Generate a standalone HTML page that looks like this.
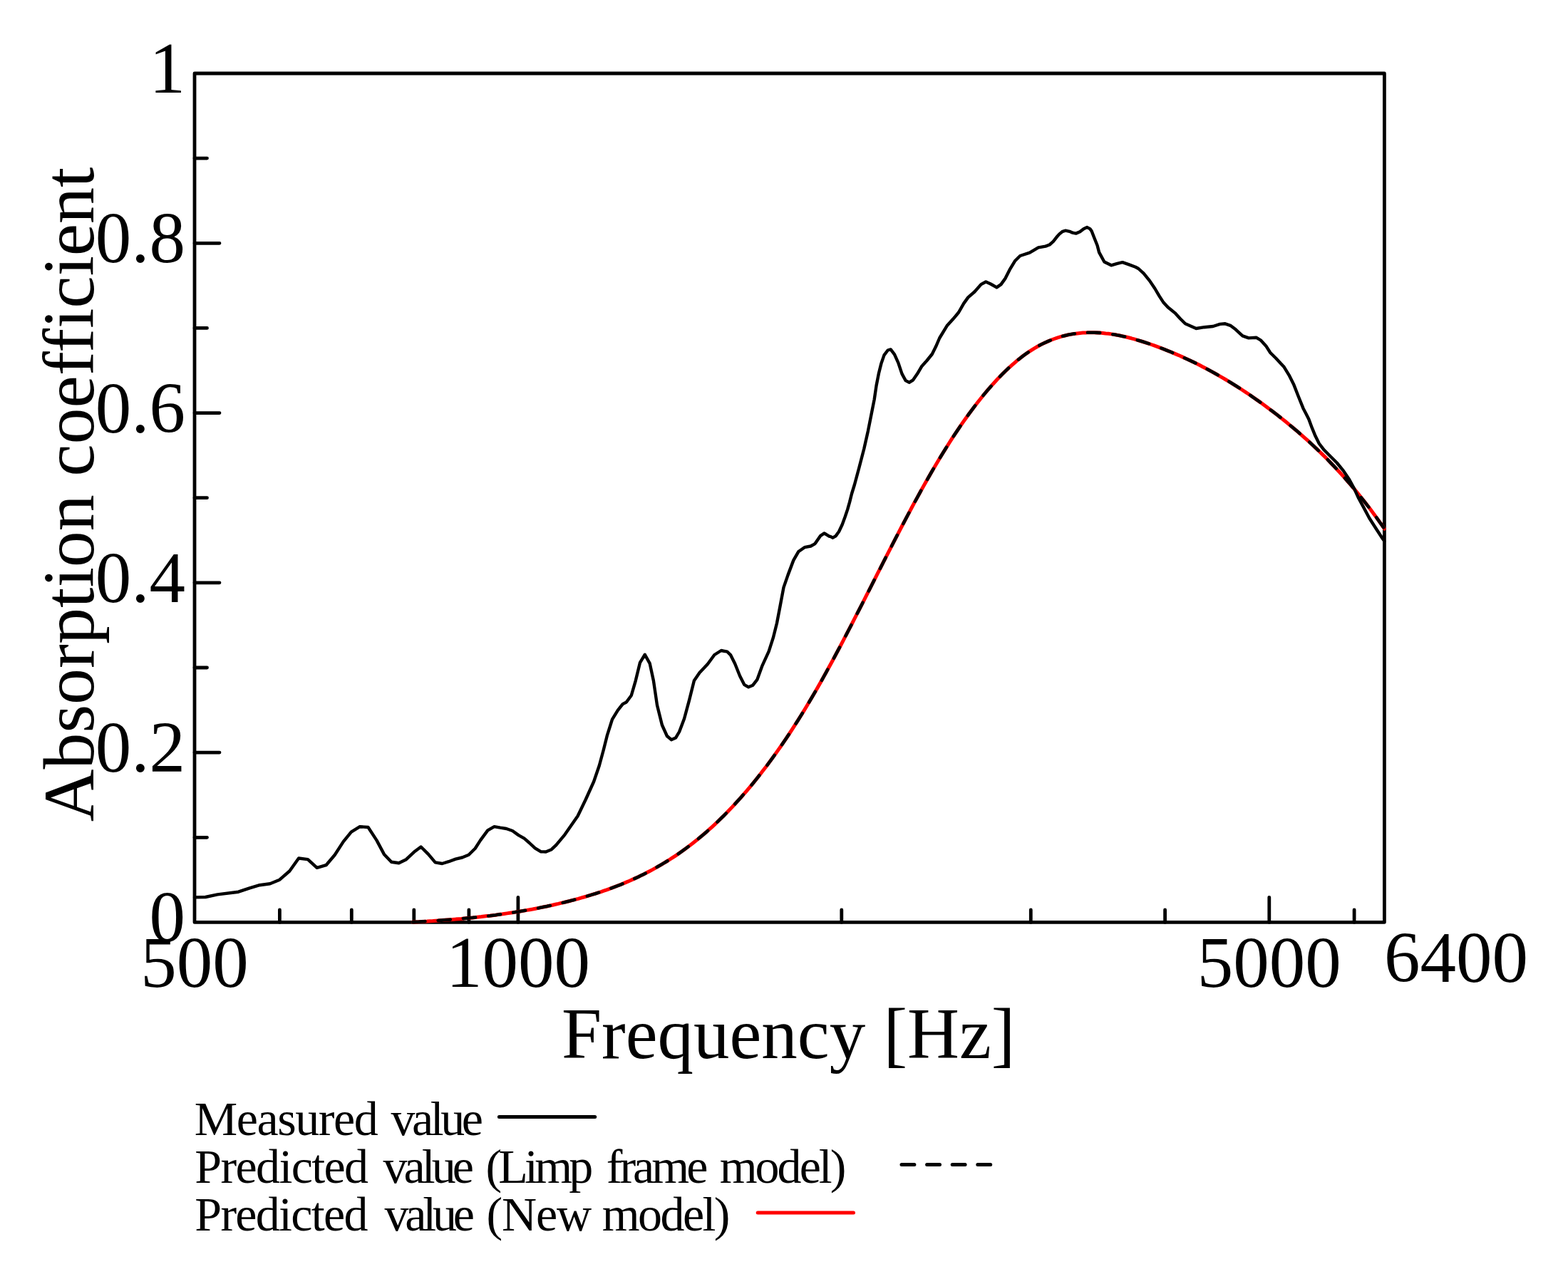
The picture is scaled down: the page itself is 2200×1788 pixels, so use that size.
<!DOCTYPE html>
<html><head><meta charset="utf-8"><title>Absorption coefficient</title>
<style>html,body{margin:0;padding:0;background:#fff;width:2200px;height:1788px;overflow:hidden}svg{display:block}</style>
</head><body>
<svg width="2200" height="1788" viewBox="0 0 2200 1788">
<rect width="2200" height="1788" fill="#fff"/>
<defs><clipPath id="pa"><rect x="260" y="90" width="1684.6" height="1220"/></clipPath></defs>
<g font-family="Liberation Serif, Times New Roman, serif" font-size="101" fill="#000">
<text x="260" y="1321.4" text-anchor="end">0</text>
<text x="260" y="1083.1" text-anchor="end">0.2</text>
<text x="260" y="844.8" text-anchor="end">0.4</text>
<text x="260" y="606.6" text-anchor="end">0.6</text>
<text x="260" y="368.3" text-anchor="end">0.8</text>
<text x="260" y="130.0" text-anchor="end">1</text>
<text x="273.0" y="1384.5" text-anchor="middle">500</text>
<text x="726.9" y="1384.5" text-anchor="middle">1000</text>
<text x="1780.8" y="1384.5" text-anchor="middle">5000</text>
<text x="1942" y="1377.5">6400</text>
<text x="1106.2" y="1485" text-anchor="middle">Frequency [Hz]</text>
<text font-size="102" transform="translate(131 693.9) rotate(-90)" text-anchor="middle">Absorption coefficient</text>
</g>
<g fill="none" stroke="#000" stroke-width="4.8" stroke-linecap="round" stroke-linejoin="round">
<rect x="273.0" y="103.0" width="1669.4" height="1191.4"/>
<path d="M273.0 1175.3H290.5M273.0 1056.1H308.0M273.0 937.0H290.5M273.0 817.8H308.0M273.0 698.7H290.5M273.0 579.6H308.0M273.0 460.4H290.5M273.0 341.3H308.0M273.0 222.1H290.5M392.4 1294.4V1276.9M493.3 1294.4V1276.9M580.8 1294.4V1276.9M657.9 1294.4V1276.9M726.9 1294.4V1259.4M1180.8 1294.4V1276.9M1446.3 1294.4V1276.9M1634.6 1294.4V1276.9M1780.8 1294.4V1259.4M1900.1 1294.4V1276.9"/>
</g>
<g clip-path="url(#pa)">
<path d="M579.3 1294.1L583.3 1293.9L587.3 1293.7L591.3 1293.4L595.3 1293.2L599.3 1293.0L603.3 1292.7L607.3 1292.5L611.3 1292.2L615.3 1291.9L619.3 1291.6L623.3 1291.3L627.3 1291.0L631.3 1290.7L635.3 1290.4L639.3 1290.1L643.3 1289.7L647.3 1289.4L651.3 1289.0L655.3 1288.6L659.3 1288.3L663.3 1287.9L667.3 1287.4L671.3 1287.0L675.3 1286.6L679.3 1286.1L683.3 1285.6L687.3 1285.2L691.3 1284.7L695.3 1284.2L699.3 1283.6L703.3 1283.1L707.3 1282.5L711.3 1281.9L715.3 1281.3L719.3 1280.7L723.3 1280.1L727.3 1279.5L731.3 1278.8L735.3 1278.1L739.3 1277.4L743.3 1276.7L747.3 1276.0L751.3 1275.2L755.3 1274.4L759.3 1273.6L763.3 1272.8L767.3 1272.0L771.3 1271.1L775.3 1270.2L779.3 1269.3L783.3 1268.4L787.3 1267.4L791.3 1266.5L795.3 1265.5L799.3 1264.5L803.3 1263.4L807.3 1262.4L811.3 1261.3L815.3 1260.1L819.3 1259.0L823.3 1257.8L827.3 1256.6L831.3 1255.4L835.3 1254.2L839.3 1252.9L843.3 1251.6L847.3 1250.2L851.3 1248.8L855.3 1247.4L859.3 1245.9L863.3 1244.4L867.3 1242.8L871.3 1241.3L875.3 1239.6L879.3 1237.9L883.3 1236.2L887.3 1234.4L891.3 1232.6L895.3 1230.8L899.3 1228.8L903.3 1226.9L907.3 1224.8L911.3 1222.7L915.3 1220.6L919.3 1218.4L923.3 1216.1L927.3 1213.8L931.3 1211.4L935.3 1209.0L939.3 1206.5L943.3 1203.9L947.3 1201.3L951.3 1198.6L955.3 1195.8L959.3 1192.9L963.3 1190.0L967.3 1187.0L971.3 1184.0L975.3 1180.8L979.3 1177.6L983.3 1174.3L987.3 1170.9L991.3 1167.5L995.3 1163.9L999.3 1160.3L1003.3 1156.6L1007.3 1152.8L1011.3 1148.9L1015.3 1145.0L1019.3 1140.9L1023.3 1136.8L1027.3 1132.6L1031.3 1128.3L1035.3 1123.9L1039.3 1119.5L1043.3 1114.9L1047.3 1110.3L1051.3 1105.6L1055.3 1100.8L1059.3 1095.9L1063.3 1090.9L1067.3 1085.8L1071.3 1080.6L1075.3 1075.4L1079.3 1070.0L1083.3 1064.6L1087.3 1059.0L1091.3 1053.4L1095.3 1047.7L1099.3 1041.9L1103.3 1036.0L1107.3 1030.0L1111.3 1023.9L1115.3 1017.7L1119.3 1011.4L1123.3 1005.0L1127.3 998.6L1131.3 992.0L1135.3 985.3L1139.3 978.5L1143.3 971.7L1147.3 964.7L1151.3 957.7L1155.3 950.5L1159.3 943.3L1163.3 936.0L1167.3 928.7L1171.3 921.2L1175.3 913.7L1179.3 906.2L1183.3 898.6L1187.3 890.9L1191.3 883.2L1195.3 875.5L1199.3 867.7L1203.3 859.9L1207.3 852.1L1211.3 844.3L1215.3 836.4L1219.3 828.6L1223.3 820.7L1227.3 812.8L1231.3 804.9L1235.3 797.1L1239.3 789.2L1243.3 781.4L1247.3 773.6L1251.3 765.8L1255.3 758.0L1259.3 750.3L1263.3 742.6L1267.3 735.0L1271.3 727.4L1275.3 719.8L1279.3 712.3L1283.3 704.9L1287.3 697.6L1291.3 690.3L1295.3 683.1L1299.3 676.0L1303.3 669.0L1307.3 662.0L1311.3 655.2L1315.3 648.4L1319.3 641.8L1323.3 635.2L1327.3 628.8L1331.3 622.5L1335.3 616.2L1339.3 610.1L1343.3 604.1L1347.3 598.2L1351.3 592.4L1355.3 586.8L1359.3 581.2L1363.3 575.8L1367.3 570.4L1371.3 565.2L1375.3 560.2L1379.3 555.2L1383.3 550.4L1387.3 545.7L1391.3 541.1L1395.3 536.7L1399.3 532.3L1403.3 528.2L1407.3 524.1L1411.3 520.2L1415.3 516.4L1419.3 512.8L1423.3 509.3L1427.3 505.9L1431.3 502.7L1435.3 499.6L1439.3 496.7L1443.3 493.9L1447.3 491.3L1451.3 488.8L1455.3 486.5L1459.3 484.3L1463.3 482.3L1467.3 480.4L1471.3 478.6L1475.3 477.0L1479.3 475.5L1483.3 474.1L1487.3 472.9L1491.3 471.7L1495.3 470.7L1499.3 469.8L1503.3 469.1L1507.3 468.4L1511.3 467.9L1515.3 467.4L1519.3 467.1L1523.3 466.9L1527.3 466.7L1531.3 466.7L1535.3 466.7L1539.3 466.9L1543.3 467.1L1547.3 467.4L1551.3 467.9L1555.3 468.3L1559.3 468.9L1563.3 469.5L1567.3 470.3L1571.3 471.0L1575.3 471.9L1579.3 472.8L1583.3 473.8L1587.3 474.8L1591.3 475.9L1595.3 477.1L1599.3 478.3L1603.3 479.5L1607.3 480.8L1611.3 482.1L1615.3 483.5L1619.3 484.9L1623.3 486.4L1627.3 487.9L1631.3 489.4L1635.3 491.0L1639.3 492.6L1643.3 494.2L1647.3 495.9L1651.3 497.6L1655.3 499.3L1659.3 501.1L1663.3 503.0L1667.3 504.8L1671.3 506.7L1675.3 508.6L1679.3 510.6L1683.3 512.6L1687.3 514.7L1691.3 516.8L1695.3 518.9L1699.3 521.1L1703.3 523.3L1707.3 525.5L1711.3 527.8L1715.3 530.1L1719.3 532.5L1723.3 534.9L1727.3 537.3L1731.3 539.8L1735.3 542.3L1739.3 544.9L1743.3 547.5L1747.3 550.1L1751.3 552.8L1755.3 555.5L1759.3 558.3L1763.3 561.1L1767.3 563.9L1771.3 566.8L1775.3 569.7L1779.3 572.7L1783.3 575.7L1787.3 578.7L1791.3 581.8L1795.3 584.9L1799.3 588.1L1803.3 591.3L1807.3 594.6L1811.3 597.9L1815.3 601.2L1819.3 604.6L1823.3 608.1L1827.3 611.6L1831.3 615.1L1835.3 618.7L1839.3 622.4L1843.3 626.1L1847.3 629.9L1851.3 633.7L1855.3 637.6L1859.3 641.6L1863.3 645.6L1867.3 649.8L1871.3 653.9L1875.3 658.2L1879.3 662.5L1883.3 666.9L1887.3 671.4L1891.3 676.0L1895.3 680.6L1899.3 685.4L1903.3 690.2L1907.3 695.1L1911.3 700.1L1915.3 705.1L1919.3 710.3L1923.3 715.6L1927.3 720.9L1931.3 726.4L1935.3 732.0L1939.3 737.6L1942.4 742.1" fill="none" stroke="#f00" stroke-width="5" stroke-linecap="round" stroke-linejoin="round"/>
<path d="M579.3 1294.1L583.3 1293.9L587.3 1293.7L591.3 1293.4L595.3 1293.2L599.3 1293.0L603.3 1292.7L607.3 1292.5L611.3 1292.2L615.3 1291.9L619.3 1291.6L623.3 1291.3L627.3 1291.0L631.3 1290.7L635.3 1290.4L639.3 1290.1L643.3 1289.7L647.3 1289.4L651.3 1289.0L655.3 1288.6L659.3 1288.3L663.3 1287.9L667.3 1287.4L671.3 1287.0L675.3 1286.6L679.3 1286.1L683.3 1285.6L687.3 1285.2L691.3 1284.7L695.3 1284.2L699.3 1283.6L703.3 1283.1L707.3 1282.5L711.3 1281.9L715.3 1281.3L719.3 1280.7L723.3 1280.1L727.3 1279.5L731.3 1278.8L735.3 1278.1L739.3 1277.4L743.3 1276.7L747.3 1276.0L751.3 1275.2L755.3 1274.4L759.3 1273.6L763.3 1272.8L767.3 1272.0L771.3 1271.1L775.3 1270.2L779.3 1269.3L783.3 1268.4L787.3 1267.4L791.3 1266.5L795.3 1265.5L799.3 1264.5L803.3 1263.4L807.3 1262.4L811.3 1261.3L815.3 1260.1L819.3 1259.0L823.3 1257.8L827.3 1256.6L831.3 1255.4L835.3 1254.2L839.3 1252.9L843.3 1251.6L847.3 1250.2L851.3 1248.8L855.3 1247.4L859.3 1245.9L863.3 1244.4L867.3 1242.8L871.3 1241.3L875.3 1239.6L879.3 1237.9L883.3 1236.2L887.3 1234.4L891.3 1232.6L895.3 1230.8L899.3 1228.8L903.3 1226.9L907.3 1224.8L911.3 1222.7L915.3 1220.6L919.3 1218.4L923.3 1216.1L927.3 1213.8L931.3 1211.4L935.3 1209.0L939.3 1206.5L943.3 1203.9L947.3 1201.3L951.3 1198.6L955.3 1195.8L959.3 1192.9L963.3 1190.0L967.3 1187.0L971.3 1184.0L975.3 1180.8L979.3 1177.6L983.3 1174.3L987.3 1170.9L991.3 1167.5L995.3 1163.9L999.3 1160.3L1003.3 1156.6L1007.3 1152.8L1011.3 1148.9L1015.3 1145.0L1019.3 1140.9L1023.3 1136.8L1027.3 1132.6L1031.3 1128.3L1035.3 1123.9L1039.3 1119.5L1043.3 1114.9L1047.3 1110.3L1051.3 1105.6L1055.3 1100.8L1059.3 1095.9L1063.3 1090.9L1067.3 1085.8L1071.3 1080.6L1075.3 1075.4L1079.3 1070.0L1083.3 1064.6L1087.3 1059.0L1091.3 1053.4L1095.3 1047.7L1099.3 1041.9L1103.3 1036.0L1107.3 1030.0L1111.3 1023.9L1115.3 1017.7L1119.3 1011.4L1123.3 1005.0L1127.3 998.6L1131.3 992.0L1135.3 985.3L1139.3 978.5L1143.3 971.7L1147.3 964.7L1151.3 957.7L1155.3 950.5L1159.3 943.3L1163.3 936.0L1167.3 928.7L1171.3 921.2L1175.3 913.7L1179.3 906.2L1183.3 898.6L1187.3 890.9L1191.3 883.2L1195.3 875.5L1199.3 867.7L1203.3 859.9L1207.3 852.1L1211.3 844.3L1215.3 836.4L1219.3 828.6L1223.3 820.7L1227.3 812.8L1231.3 804.9L1235.3 797.1L1239.3 789.2L1243.3 781.4L1247.3 773.6L1251.3 765.8L1255.3 758.0L1259.3 750.3L1263.3 742.6L1267.3 735.0L1271.3 727.4L1275.3 719.8L1279.3 712.3L1283.3 704.9L1287.3 697.6L1291.3 690.3L1295.3 683.1L1299.3 676.0L1303.3 669.0L1307.3 662.0L1311.3 655.2L1315.3 648.4L1319.3 641.8L1323.3 635.2L1327.3 628.8L1331.3 622.5L1335.3 616.2L1339.3 610.1L1343.3 604.1L1347.3 598.2L1351.3 592.4L1355.3 586.8L1359.3 581.2L1363.3 575.8L1367.3 570.4L1371.3 565.2L1375.3 560.2L1379.3 555.2L1383.3 550.4L1387.3 545.7L1391.3 541.1L1395.3 536.7L1399.3 532.3L1403.3 528.2L1407.3 524.1L1411.3 520.2L1415.3 516.4L1419.3 512.8L1423.3 509.3L1427.3 505.9L1431.3 502.7L1435.3 499.6L1439.3 496.7L1443.3 493.9L1447.3 491.3L1451.3 488.8L1455.3 486.5L1459.3 484.3L1463.3 482.3L1467.3 480.4L1471.3 478.6L1475.3 477.0L1479.3 475.5L1483.3 474.1L1487.3 472.9L1491.3 471.7L1495.3 470.7L1499.3 469.8L1503.3 469.1L1507.3 468.4L1511.3 467.9L1515.3 467.4L1519.3 467.1L1523.3 466.9L1527.3 466.7L1531.3 466.7L1535.3 466.7L1539.3 466.9L1543.3 467.1L1547.3 467.4L1551.3 467.9L1555.3 468.3L1559.3 468.9L1563.3 469.5L1567.3 470.3L1571.3 471.0L1575.3 471.9L1579.3 472.8L1583.3 473.8L1587.3 474.8L1591.3 475.9L1595.3 477.1L1599.3 478.3L1603.3 479.5L1607.3 480.8L1611.3 482.1L1615.3 483.5L1619.3 484.9L1623.3 486.4L1627.3 487.9L1631.3 489.4L1635.3 491.0L1639.3 492.6L1643.3 494.2L1647.3 495.9L1651.3 497.6L1655.3 499.3L1659.3 501.1L1663.3 503.0L1667.3 504.8L1671.3 506.7L1675.3 508.6L1679.3 510.6L1683.3 512.6L1687.3 514.7L1691.3 516.8L1695.3 518.9L1699.3 521.1L1703.3 523.3L1707.3 525.5L1711.3 527.8L1715.3 530.1L1719.3 532.5L1723.3 534.9L1727.3 537.3L1731.3 539.8L1735.3 542.3L1739.3 544.9L1743.3 547.5L1747.3 550.1L1751.3 552.8L1755.3 555.5L1759.3 558.3L1763.3 561.1L1767.3 563.9L1771.3 566.8L1775.3 569.7L1779.3 572.7L1783.3 575.7L1787.3 578.7L1791.3 581.8L1795.3 584.9L1799.3 588.1L1803.3 591.3L1807.3 594.6L1811.3 597.9L1815.3 601.2L1819.3 604.6L1823.3 608.1L1827.3 611.6L1831.3 615.1L1835.3 618.7L1839.3 622.4L1843.3 626.1L1847.3 629.9L1851.3 633.7L1855.3 637.6L1859.3 641.6L1863.3 645.6L1867.3 649.8L1871.3 653.9L1875.3 658.2L1879.3 662.5L1883.3 666.9L1887.3 671.4L1891.3 676.0L1895.3 680.6L1899.3 685.4L1903.3 690.2L1907.3 695.1L1911.3 700.1L1915.3 705.1L1919.3 710.3L1923.3 715.6L1927.3 720.9L1931.3 726.4L1935.3 732.0L1939.3 737.6L1942.4 742.1" fill="none" stroke="#000" stroke-width="4.6" stroke-linecap="round" stroke-dasharray="17.2 18.2"/>
<path d="M273.0 1259.4L288.3 1259.0L305.3 1255.4L334.5 1251.7L350.3 1246.3L364.3 1242.2L378.9 1240.2L392.3 1234.7L406.3 1222.5L419.1 1204.5L431.9 1206.1L444.7 1217.9L457.5 1214.2L469.6 1200.0L481.8 1181.1L492.8 1167.7L504.9 1160.2L516.5 1161.0L528.5 1179.4L538.9 1198.9L549.2 1209.8L559.6 1211.3L569.9 1206.2L580.9 1195.8L590.6 1188.5L601.0 1198.9L610.7 1210.4L620.4 1212.0L629.6 1209.2L639.3 1205.6L648.4 1203.5L657.6 1199.8L666.7 1190.7L674.0 1179.4L684.3 1165.4L693.5 1160.2L702.0 1161.7L710.5 1163.0L719.0 1166.0L727.5 1172.1L735.5 1176.7L742.8 1183.0L750.7 1190.3L758.6 1195.2L765.9 1195.5L773.8 1192.2L780.4 1185.9L792.5 1171.3L810.6 1145.3L821.8 1122.0L833.1 1097.0L840.8 1074.5L846.9 1052.0L852.1 1031.3L859.0 1009.7L866.8 996.8L873.7 988.1L878.8 985.5L885.8 976.0L891.8 955.3L897.9 930.2L904.8 918.7L911.7 931.1L916.9 955.3L922.0 989.8L928.9 1017.5L935.9 1033.0L941.9 1038.2L948.0 1035.6L953.1 1027.0L960.0 1008.8L967.0 982.9L973.9 955.3L981.6 944.1L992.9 932.0L1002.4 919.0L1011.9 913.0L1020.5 914.7L1025.2 919.4L1031.2 931.5L1038.1 948.7L1044.2 960.8L1050.2 964.3L1056.3 961.7L1062.3 953.9L1069.2 934.9L1078.7 914.2L1084.8 895.2L1090.0 874.5L1094.3 852.0L1099.5 824.4L1105.5 807.1L1113.3 786.4L1120.2 774.3L1128.8 768.2L1137.5 766.5L1143.5 763.1L1151.3 751.8L1156.5 748.4L1163.4 752.7L1165.0 752.9L1168.5 754.7L1172.5 752.4L1177.1 746.0L1181.7 736.2L1185.7 725.3L1189.2 714.9L1192.1 704.6L1195.0 693.0L1199.0 680.0L1205.4 656.2L1212.3 629.7L1218.0 604.4L1222.6 581.3L1226.7 560.6L1229.6 541.0L1233.0 523.8L1236.5 509.9L1240.5 498.4L1245.7 491.5L1249.7 490.4L1255.0 497.3L1260.3 509.1L1265.5 524.6L1270.7 534.1L1275.9 536.7L1281.1 533.3L1287.1 524.6L1293.1 514.3L1300.1 506.5L1307.8 497.0L1313.0 486.6L1318.2 474.5L1328.6 457.3L1337.2 447.8L1345.0 438.5L1352.2 425.9L1358.3 417.4L1367.4 409.5L1376.5 399.1L1383.2 395.5L1389.9 398.5L1398.4 403.4L1404.5 399.1L1410.6 390.6L1416.7 378.4L1424.0 366.3L1431.3 359.0L1444.7 354.7L1456.9 347.4L1460.0 346.8L1467.0 345.6L1472.6 343.5L1477.8 338.9L1482.5 332.8L1486.2 328.6L1490.9 324.8L1495.1 323.6L1500.7 324.8L1504.9 326.7L1509.6 327.6L1515.2 325.3L1520.4 321.3L1525.1 319.0L1529.3 321.1L1531.6 324.3L1534.9 332.8L1539.6 344.5L1542.1 354.1L1549.4 367.5L1559.1 372.3L1567.6 369.9L1574.9 368.1L1583.5 371.1L1593.2 374.8L1597.3 377.0L1604.6 383.7L1613.1 394.1L1620.4 405.0L1626.5 415.4L1632.0 423.9L1638.7 431.2L1648.4 439.1L1655.7 447.0L1663.0 454.3L1670.3 457.4L1678.3 461.0L1689.8 459.2L1702.0 458.0L1711.7 454.9L1719.0 454.3L1726.3 456.8L1733.6 462.3L1743.4 471.4L1751.9 474.4L1762.9 473.8L1768.9 477.5L1776.2 485.4L1782.3 495.0L1790.4 503.0L1801.6 515.1L1808.5 526.3L1815.4 540.1L1821.5 555.7L1828.4 572.9L1832.1 580.0L1836.3 588.3L1840.9 600.7L1845.6 612.1L1850.8 622.5L1858.0 631.8L1867.4 641.2L1875.7 649.5L1885.0 660.9L1893.3 673.3L1899.5 684.7L1905.7 698.2L1913.0 711.6L1921.3 727.2L1930.6 741.7L1939.4 755.2L1942.4 759.5" fill="none" stroke="#000" stroke-width="4.4" stroke-linecap="round" stroke-linejoin="round"/>
</g>
<g font-family="Liberation Serif, Times New Roman, serif" font-size="68" fill="#000">
<text y="1593"><tspan x="272.8" letter-spacing="-1.46">Measured</tspan><tspan x="548.4" letter-spacing="-4.4">value</tspan></text>
<text y="1660.2"><tspan x="273.2" letter-spacing="-1.61">Predicted</tspan><tspan x="537.4" letter-spacing="-4.92">value</tspan><tspan x="681.4" letter-spacing="-4.76">(Limp</tspan><tspan x="850.7" letter-spacing="-3.95">frame</tspan><tspan x="1009.7" letter-spacing="-2.98">model)</tspan></text>
<text y="1727.3"><tspan x="273.3" letter-spacing="-1.71">Predicted</tspan><tspan x="539.4" letter-spacing="-5.17">value</tspan><tspan x="682.5" letter-spacing="-1.18">(New</tspan><tspan x="844.8" letter-spacing="-2.58">model)</tspan></text>
</g>
<path d="M700.4 1567.4H834.7" stroke="#000" stroke-width="5" stroke-linecap="round"/>
<path d="M1265 1634.5H1390" stroke="#000" stroke-width="5" stroke-linecap="round" stroke-dasharray="17.9 17.7"/>
<path d="M1063.2 1701.9H1197.5" stroke="#f00" stroke-width="5" stroke-linecap="round"/>
</svg>
</body></html>
